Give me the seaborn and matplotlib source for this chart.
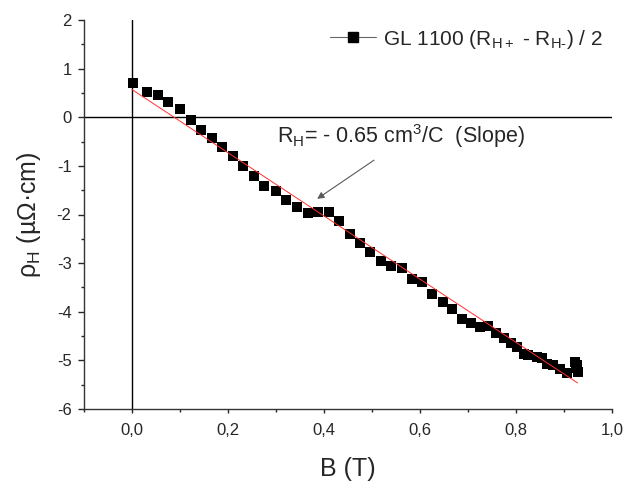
"""
Hall resistivity vs magnetic field for GL 1100, with the linear fit (slope = R_H).
"""
import numpy as np
import pandas as pd
import matplotlib
matplotlib.use('Agg')
import matplotlib.pyplot as plt
from matplotlib.lines import Line2D
from matplotlib.ticker import MultipleLocator, FuncFormatter
import seaborn as sns

# data
field_T = [0.002, 0.031, 0.054, 0.076, 0.099, 0.122, 0.144, 0.166, 0.188, 0.210,
           0.232, 0.254, 0.276, 0.299, 0.321, 0.343, 0.366, 0.388, 0.410, 0.432,
           0.454, 0.475, 0.496, 0.518, 0.540, 0.563, 0.584, 0.605, 0.626, 0.647,
           0.667, 0.688, 0.706, 0.726, 0.741, 0.758, 0.776, 0.789, 0.802, 0.816,
           0.826, 0.844, 0.854, 0.864, 0.878, 0.892, 0.906, 0.922, 0.926, 0.928,
           0.929]
rho_H = [0.70, 0.51, 0.45, 0.31, 0.165, -0.06, -0.26, -0.43, -0.61, -0.80,
         -1.00, -1.20, -1.41, -1.51, -1.71, -1.84, -1.96, -1.94, -1.95, -2.14,
         -2.41, -2.59, -2.77, -2.95, -3.05, -3.10, -3.32, -3.38, -3.64, -3.79,
         -3.95, -4.15, -4.23, -4.31, -4.29, -4.43, -4.53, -4.64, -4.72, -4.87,
         -4.89, -4.94, -4.96, -5.07, -5.10, -5.18, -5.26, -5.04, -5.15, -5.09,
         -5.23]

# linear fit
fit_intercept = 0.57
fit_slope = -6.5
fit_range = [0.0, 0.928]

legend_label = 'GL 1100 (R$_{H+}$ - R$_{H\u2010}$) / 2'
annot_label = 'R$_H$= - 0.65 cm$^3$/C  (Slope)'


def main():
    sns.set_style('ticks')
    plt.rcParams['font.family'] = ['Liberation Sans', 'DejaVu Sans']
    plt.rcParams['mathtext.default'] = 'regular'
    plt.rcParams['axes.unicode_minus'] = False

    df = pd.DataFrame({'B': field_T, 'rho': rho_H})
    fit = pd.DataFrame({'B': fit_range})
    fit['rho'] = fit_intercept + fit_slope * fit['B']

    fig = plt.figure(figsize=(6.26, 4.84), dpi=100)
    ax = fig.add_axes([84 / 626, 1 - 409 / 484, 528 / 626, 389 / 484])

    ax.axhline(0, color='k', lw=1, zorder=1)
    ax.axvline(0, color='k', lw=1, zorder=1)

    sns.scatterplot(data=df, x='B', y='rho', marker='s', s=44, color='k',
                    linewidth=0, zorder=3, legend=False, ax=ax)
    sns.lineplot(data=fit, x='B', y='rho', color='#ff3030', lw=0.7,
                 zorder=4, ax=ax)

    ax.annotate('', xy=(0.381, -1.71), xytext=(0.509, -0.85),
                arrowprops=dict(arrowstyle='-|>', color='0.35', lw=0.8,
                                mutation_scale=10))
    ax.text(0.303, -0.535, annot_label, fontsize=15.5, va='baseline', ha='left')

    ax.set_xlim(-0.1, 1.0)
    ax.set_ylim(-6, 2)
    ax.xaxis.set_major_locator(MultipleLocator(0.2))
    ax.xaxis.set_minor_locator(MultipleLocator(0.1))
    ax.yaxis.set_major_locator(MultipleLocator(1))
    ax.yaxis.set_minor_locator(MultipleLocator(0.5))
    ax.xaxis.set_major_formatter(FuncFormatter(lambda v, p: f'{v:.1f}'.replace('.', ',')))
    ax.yaxis.set_major_formatter(FuncFormatter(lambda v, p: f'{v:.0f}'))
    ax.tick_params(axis='x', which='major', direction='out', length=3, width=1,
                   pad=7, labelsize=12)
    ax.tick_params(axis='x', which='minor', direction='out', length=2.5, width=1)
    ax.tick_params(axis='y', which='major', direction='out', length=4, width=1,
                   pad=5, labelsize=12)
    ax.tick_params(axis='y', which='minor', direction='out', length=2.5, width=1)

    sns.despine(ax=ax)
    for side in ['left', 'bottom']:
        ax.spines[side].set_color('0.2')
        ax.spines[side].set_linewidth(1)

    ax.set_xlabel('B (T)', fontsize=18, labelpad=14)
    ax.set_ylabel('ρ$_H$ (µΩ·cm)', fontsize=18, labelpad=10)

    handle = Line2D([], [], color='0.4', lw=0.8, marker='s', ms=6.5,
                    mfc='k', mec='k')
    ax.legend([handle], [legend_label], loc='center left',
              bbox_to_anchor=(0.466, 0.951), frameon=False, fontsize=15,
              borderpad=0, borderaxespad=0, handlelength=2.2,
              handletextpad=0.35)

    fig.savefig('out.png', dpi=100)


if __name__ == '__main__':
    main()
